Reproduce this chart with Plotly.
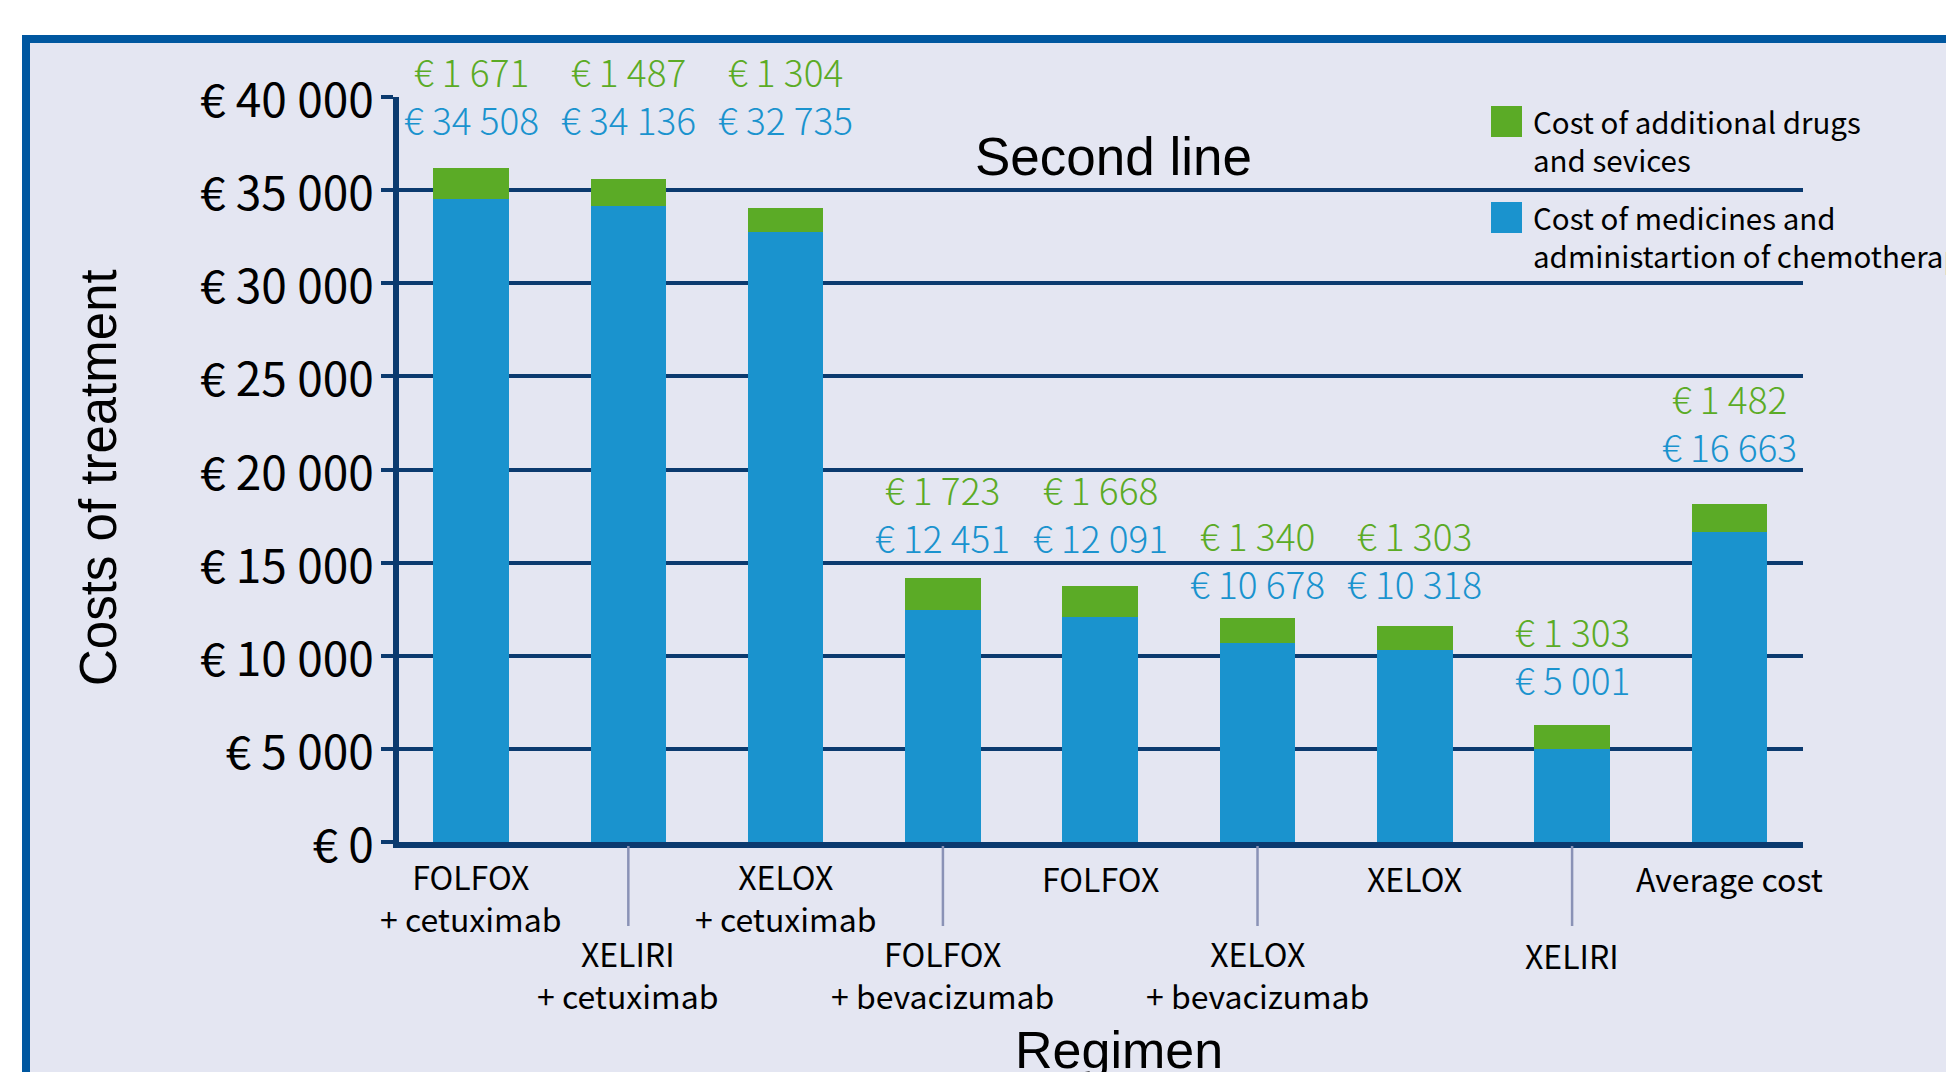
import plotly.graph_objects as go

# ---------------- data ----------------
categories = [
    "FOLFOX + cetuximab", "XELIRI + cetuximab", "XELOX + cetuximab",
    "FOLFOX + bevacizumab", "FOLFOX", "XELOX + bevacizumab",
    "XELOX", "XELIRI", "Average cost",
]
category_lines = [
    ["FOLFOX", "+ cetuximab"],
    ["XELIRI", "+ cetuximab"],
    ["XELOX", "+ cetuximab"],
    ["FOLFOX", "+ bevacizumab"],
    ["FOLFOX"],
    ["XELOX", "+ bevacizumab"],
    ["XELOX"],
    ["XELIRI"],
    ["Average cost"],
]
medicines_cost = [34508, 34136, 32735, 12451, 12091, 10678, 10318, 5001, 16663]
additional_cost = [1671, 1487, 1304, 1723, 1668, 1340, 1303, 1303, 1482]
series_names = ["Cost of additional drugs and sevices",
                "Cost of medicines and administartion of chemotherapy"]
legend_lines = [["Cost of additional drugs", "and sevices"],
                ["Cost of medicines and", "administartion of chemotherapy"]]
y_tick_values = [0, 5000, 10000, 15000, 20000, 25000, 30000, 35000, 40000]
y_tick_labels = ["€ 0", "€ 5 000", "€ 10 000", "€ 15 000", "€ 20 000",
                 "€ 25 000", "€ 30 000", "€ 35 000", "€ 40 000"]
label_groups = [0, 0, 0, 1, 1, 2, 2, 3, 4]
chart_title = "Second line"
x_title = "Regimen"
y_title = "Costs of treatment"

# ---------------- style ----------------
W, H = 1954, 1072
OFF = 8  # page body margin
PL, PR, PT, PB = 399, 1803, 97, 842  # plot area in window pixels
L, T = PL - OFF, PT - OFF
R, B = W - (PR - OFF), H - (PB - OFF)
PW, PH = PR - PL, PB - PT
X_RANGE = [-0.458, 8.468]

BLUE = "#1A93CE"
GREEN = "#5BAB26"
NAVY = "#0B3A6F"
FRAME = "#0057A0"
BG = "#E4E6F2"
SEP = "#8A92B6"
NARROW = "Noto Sans CJK SC, Liberation Sans, sans-serif"
REG = "Liberation Sans, Arial, sans-serif"
# pixel lift (centre of the blue label) above the tallest bar of each label group
GROUP_LIFT = {0: 49, 1: 41, 2: 35, 3: 46, 4: 58}
GREEN_ABOVE_BLUE = 48


def px_x(p):
    return (p - PL) / PW


def px_y(p):
    return (PB - p) / PH


def euro(v):
    return "€ " + f"{v:,}".replace(",", " ")


fig = go.Figure()
fig.add_trace(go.Bar(x=categories, y=medicines_cost, name=series_names[1],
                     marker=dict(color=BLUE, line=dict(width=0)), showlegend=False))
fig.add_trace(go.Bar(x=categories, y=additional_cost, name=series_names[0],
                     marker=dict(color=GREEN, line=dict(width=0)), showlegend=False))

shapes = []
annotations = []

# outer frame
shapes.append(dict(type="rect", xref="paper", yref="paper",
                   x0=px_x(26), x1=px_x(2200), y0=px_y(39), y1=px_y(1300),
                   line=dict(color=FRAME, width=8), fillcolor=BG, layer="below"))

# value labels (green over blue, one text block per bar)
totals = [m + a for m, a in zip(medicines_cost, additional_cost)]
group_top = {}
for g, t in zip(label_groups, totals):
    group_top[g] = max(group_top.get(g, 0), t)
for i, cat in enumerate(categories):
    g = label_groups[i]
    txt = (f"<span style='color:{GREEN}'>{euro(additional_cost[i])}</span><br>"
           f"<span style='color:{BLUE}'>{euro(medicines_cost[i])}</span>")
    annotations.append(dict(x=cat, y=group_top[g], xref="x", yref="y", text=txt,
                            showarrow=False, xanchor="center", yanchor="middle",
                            yshift=GROUP_LIFT[g] + GREEN_ABOVE_BLUE / 2,
                            font=dict(family=NARROW, size=37, color=BLUE, weight=300)))

# category labels (staggered) and separators
row_line_px = [[878, 916], [955, 993]]
for i, cat in enumerate(categories):
    row = i % 2
    lines = category_lines[i]
    ys = row_line_px[row][:len(lines)]
    annotations.append(dict(x=cat, xref="x", yref="paper", y=px_y(sum(ys) / len(ys)),
                            text="<br>".join(lines), showarrow=False,
                            xanchor="center", yanchor="middle",
                            font=dict(family=NARROW, size=32, color="black")))
    if row == 1:
        shapes.append(dict(type="line", xref="x", yref="paper", x0=i, x1=i,
                           y0=px_y(846), y1=px_y(926), line=dict(color=SEP, width=2.5)))

# titles
annotations.append(dict(xref="paper", yref="paper", x=px_x(1113), y=px_y(156), text=chart_title,
                        showarrow=False, xanchor="center", yanchor="middle",
                        font=dict(family=REG, size=53, color="black")))
annotations.append(dict(xref="paper", yref="paper", x=px_x(1119), y=px_y(1050), text=x_title,
                        showarrow=False, xanchor="center", yanchor="middle",
                        font=dict(family=REG, size=52, color="black")))
annotations.append(dict(xref="paper", yref="paper", x=px_x(98), y=px_y(478), text=y_title,
                        textangle=-90, showarrow=False, xanchor="center", yanchor="middle",
                        font=dict(family=REG, size=51, color="black")))

# custom legend
legend_colors = [GREEN, BLUE]
legend_sq_top = [106, 202]
legend_text_mid = [140, 236]
for k in range(2):
    shapes.append(dict(type="rect", xref="paper", yref="paper",
                       x0=px_x(1491), x1=px_x(1522),
                       y0=px_y(legend_sq_top[k]), y1=px_y(legend_sq_top[k] + 31),
                       fillcolor=legend_colors[k], line=dict(width=0)))
    annotations.append(dict(xref="paper", yref="paper", x=px_x(1531), y=px_y(legend_text_mid[k]),
                            xanchor="left", yanchor="middle", align="left",
                            text="<br>".join(legend_lines[k]), showarrow=False,
                            font=dict(family=NARROW, size=29.5, color="black")))

fig.update_layout(
    width=W, height=H,
    margin=dict(l=L, r=R, t=T, b=B, autoexpand=False),
    paper_bgcolor="white",
    plot_bgcolor="rgba(0,0,0,0)",
    barmode="stack",
    bargap=0.52,
    shapes=shapes,
    annotations=annotations,
    showlegend=False,
    xaxis=dict(range=X_RANGE, showticklabels=False, ticks="", showgrid=False,
               showline=True, linecolor=NAVY, linewidth=6, zeroline=False, fixedrange=True),
    yaxis=dict(range=[0, 40000], tickvals=y_tick_values, ticktext=y_tick_labels,
               ticks="outside", ticklen=12, tickwidth=4, tickcolor=NAVY,
               ticklabelstandoff=-2, ticklabelshift=4,
               showgrid=True, gridcolor=NAVY, gridwidth=4, zeroline=False,
               showline=True, linecolor=NAVY, linewidth=6,
               tickfont=dict(family=NARROW, size=46, color="black")),
)

fig.write_html("out.html")
